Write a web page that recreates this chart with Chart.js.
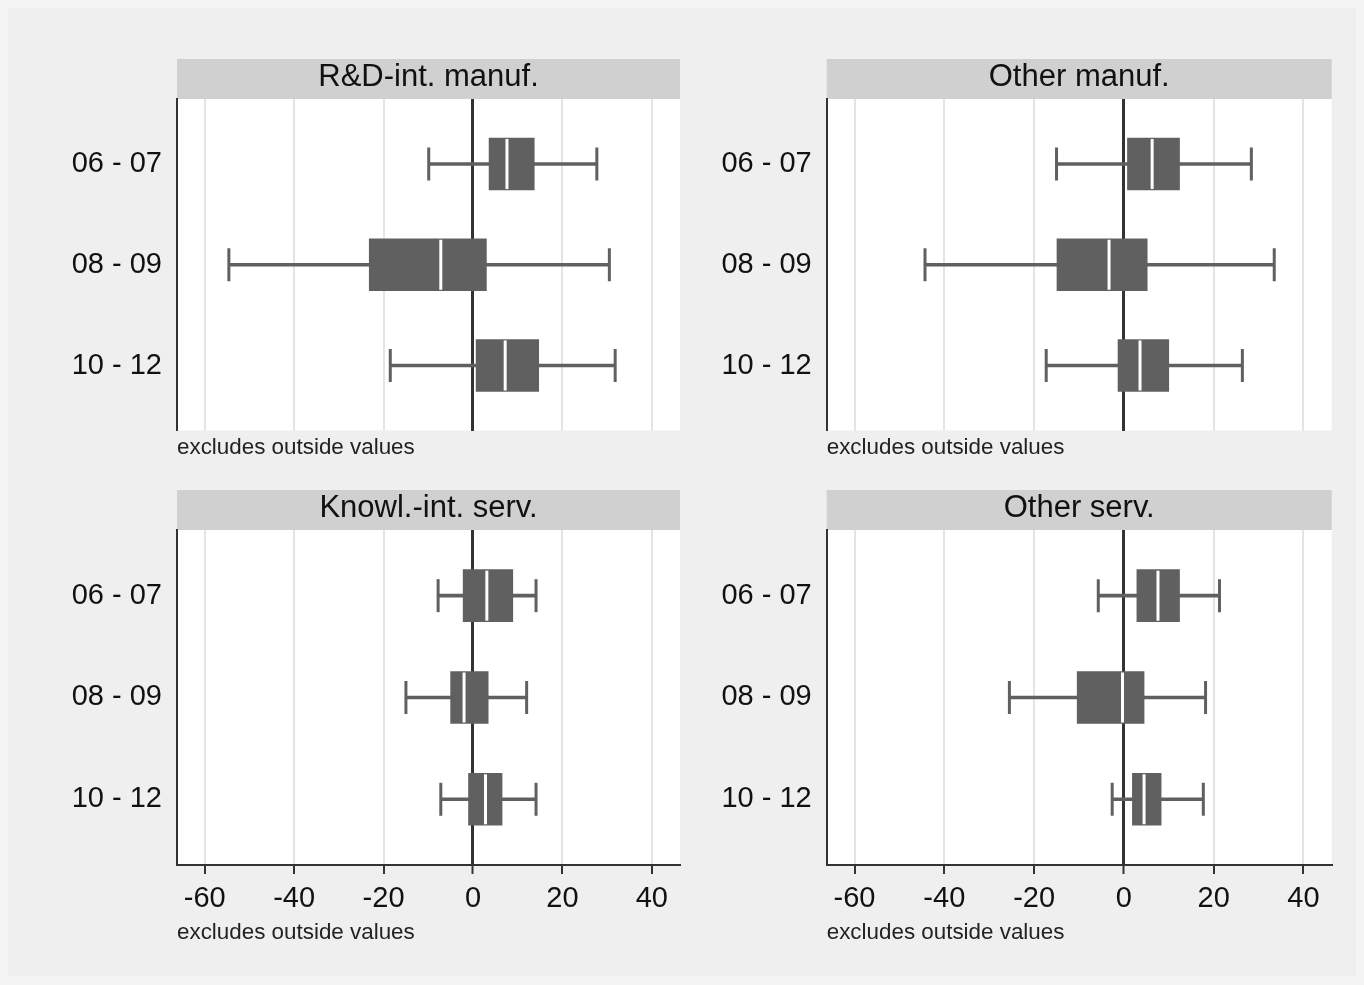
<!DOCTYPE html>
<html>
<head>
<meta charset="utf-8">
<title>Growth by period and sector</title>
<script src="https://cdn.jsdelivr.net/npm/chart.js@4.4.1/dist/chart.umd.min.js"></script>
<style>
  html, body { margin: 0; padding: 0; }
  body { width: 1364px; height: 985px; background: #f4f4f4; position: relative; overflow: hidden; }
  #frame { position: absolute; left: 8px; top: 8px; width: 1348px; height: 968px; background: #efefef; }
  canvas { position: absolute; }
</style>
</head>
<body>
<div id="frame"></div>
<canvas id="p0" width="682" height="480" style="left:0;top:0"></canvas>
<canvas id="p1" width="682" height="480" style="left:682px;top:0"></canvas>
<canvas id="p2" width="682" height="505" style="left:0;top:480px"></canvas>
<canvas id="p3" width="682" height="505" style="left:682px;top:480px"></canvas>
<script>
const PANELS = ["R&D-int. manuf.", "Other manuf.", "Knowl.-int. serv.", "Other serv."];
const PERIODS = ["06 - 07", "08 - 09", "10 - 12"];
const X_TICKS = [-60, -40, -20, 0, 20, 40];
const NOTE = "excludes outside values";

// one row per panel (same order as PANELS), one value per period
const LOWER_WHISKER = [
    [-9.9, -54.6, -18.5],
    [-15.0, -44.3, -17.3],
    [-7.8, -15.0, -7.2],
    [-5.7, -25.5, -2.6],
];
const Q1 = [
    [3.6, -23.2, 0.7],
    [0.8, -14.9, -1.3],
    [-2.2, -5.0, -1.0],
    [2.9, -10.4, 1.9],
];
const MEDIAN = [
    [7.6, -7.2, 7.2],
    [6.3, -3.3, 3.6],
    [3.1, -2.0, 2.8],
    [7.6, -0.3, 4.5],
];
const Q3 = [
    [13.7, 3.0, 14.7],
    [12.4, 5.2, 10.0],
    [8.9, 3.4, 6.5],
    [12.4, 4.5, 8.3],
];
const UPPER_WHISKER = [
    [27.7, 30.5, 31.8],
    [28.4, 33.5, 26.4],
    [14.1, 12.0, 14.1],
    [21.3, 18.2, 17.7],
];

const COLOR = {
    box: "#606060",
    grid: "#e4e4e4",
    axis: "#333333",
    strip: "#d0d0d0",
    text: "#111111",
};

Chart.defaults.font.family = "'Liberation Sans', Arial, sans-serif";
Chart.defaults.color = COLOR.text;

// where each panel's plot sits inside its canvas
const FRAMES = [
    { id: "p0", padRight: 2,    padTop: 59, padBottom: 23.7, axisWidth: 177,   bottomAxis: false },
    { id: "p1", padRight: 32.3, padTop: 59, padBottom: 23.7, axisWidth: 144.7, bottomAxis: false },
    { id: "p2", padRight: 2,    padTop: 10, padBottom: 44,   axisWidth: 177,   bottomAxis: true },
    { id: "p3", padRight: 32.3, padTop: 10, padBottom: 44,   axisWidth: 144.7, bottomAxis: true },
];

// white plot area + grey strip behind the panel title
const panelBackground = {
    id: "panelBackground",
    beforeDraw(chart) {
        const { ctx, chartArea: a, titleBlock: t } = chart;
        ctx.save();
        ctx.fillStyle = "#ffffff";
        ctx.fillRect(a.left, a.top, a.right - a.left, a.bottom - a.top);
        if (t) {
            ctx.fillStyle = COLOR.strip;
            ctx.fillRect(t.left, t.top, t.width, t.height);
        }
        ctx.restore();
    },
};

function makePanel(i) {
    const f = FRAMES[i];
    const rows = PERIODS.map((_, r) => r + 1);

    return new Chart(document.getElementById(f.id), {
        type: "bar",
        data: {
            datasets: [
                {
                    type: "scatter",
                    data: rows.map((y, r) => ({ x: MEDIAN[i][r], y })),
                    pointStyle: "line",
                    pointRotation: 90,
                    pointRadius: 25,
                    pointBorderColor: "#ffffff",
                    pointBorderWidth: 3,
                    order: 0,
                },
                {
                    type: "bar",
                    indexAxis: "y",
                    grouped: false,
                    data: rows.map((y, r) => ({ x: [Q1[i][r], Q3[i][r]], y })),
                    backgroundColor: COLOR.box,
                    barThickness: 52,
                    maxBarThickness: 52,
                    order: 1,
                },
                {
                    type: "scatter",
                    data: rows.flatMap((y, r) => [
                        { x: LOWER_WHISKER[i][r], y },
                        { x: UPPER_WHISKER[i][r], y },
                    ]),
                    pointStyle: "line",
                    pointRotation: 90,
                    pointRadius: 16.5,
                    pointBorderColor: COLOR.box,
                    pointBorderWidth: 3,
                    order: 2,
                },
                {
                    type: "bar",
                    indexAxis: "y",
                    grouped: false,
                    data: rows.map((y, r) => ({ x: [LOWER_WHISKER[i][r], UPPER_WHISKER[i][r]], y })),
                    backgroundColor: COLOR.box,
                    barThickness: 3,
                    maxBarThickness: 3,
                    order: 3,
                },
            ],
        },
        options: {
            responsive: false,
            animation: false,
            events: [],
            layout: {
                autoPadding: false,
                padding: { left: 0, right: f.padRight, top: f.padTop, bottom: f.padBottom },
            },
            plugins: {
                legend: { display: false },
                tooltip: { enabled: false },
                title: {
                    display: true,
                    text: PANELS[i],
                    fullSize: false,
                    color: COLOR.text,
                    font: { size: 31, weight: "normal", lineHeight: 1 },
                    padding: { top: 3, bottom: 6 },
                },
            },
            scales: {
                x: {
                    type: "linear",
                    offset: false,
                    min: -66.2,
                    max: 46.3,
                    afterBuildTicks: s => { s.ticks = X_TICKS.map(v => ({ value: v })); },
                    grid: {
                        offset: false,
                        color: c => (c.tick && c.tick.value === 0 ? COLOR.axis : COLOR.grid),
                        lineWidth: c => (c.tick && c.tick.value === 0 ? 3 : 2),
                        drawTicks: f.bottomAxis,
                        tickLength: 9,
                        tickColor: COLOR.axis,
                        tickWidth: 2,
                    },
                    border: { display: f.bottomAxis, color: COLOR.axis, width: 2 },
                    ticks: {
                        display: f.bottomAxis,
                        autoSkip: false,
                        maxRotation: 0,
                        padding: 8.7,
                        color: COLOR.text,
                        font: { size: 29, lineHeight: 1.16 },
                    },
                    title: {
                        display: true,
                        text: NOTE,
                        align: "start",
                        color: "#222222",
                        font: { size: 22.4, lineHeight: 16 / 22.4 },
                        padding: { top: f.bottomAxis ? 0 : 9.8, bottom: 0 },
                    },
                },
                y: {
                    type: "linear",
                    offset: false,
                    beginAtZero: false,
                    reverse: true,
                    min: 0.355,
                    max: 3.645,
                    afterBuildTicks: s => { s.ticks = rows.map(v => ({ value: v })); },
                    afterFit: s => { s.width = f.axisWidth; },
                    grid: { display: false, drawTicks: false, offset: false },
                    border: { display: true, color: COLOR.axis, width: 2 },
                    ticks: {
                        padding: 15,
                        color: COLOR.text,
                        font: { size: 29 },
                        callback: v => PERIODS[v - 1],
                    },
                },
            },
        },
        plugins: [panelBackground],
    });
}

PANELS.forEach((_, i) => makePanel(i));
</script>
</body>
</html>
